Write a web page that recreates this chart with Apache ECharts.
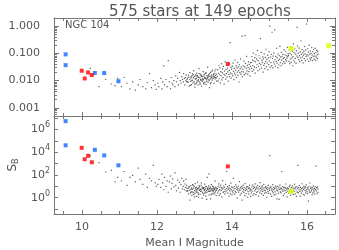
<!DOCTYPE html>
<html><head><meta charset="utf-8">
<script src="https://cdn.jsdelivr.net/npm/echarts@6/dist/echarts.min.js"></script>
<style>html,body{margin:0;padding:0;background:#fff}#c{width:339px;height:250px}</style>
</head><body><div id="c"></div><script>
// ---------- data ----------
const magA = [10.22,10.45,10.63,10.78,10.88,10.95];
const rmsA = [0.028,0.006,0.011,0.0075,0.0065,0.012];
const sbA  = [5000,1200,180,250,25,60];

const magB = [11.05,11.12,11.2,11.28,11.35,11.42,11.5,11.55,11.62,11.7,11.74,11.8,11.85,11.9,11.95,11.98];
const rmsB = [0.006,0.013,0.008,0.005,0.009,0.0045,0.007,0.011,0.006,0.005,0.0085,0.018,0.0055,0.010,0.007,0.0048];
const sbB  = [30,200,12,60,90,25,400,40,15,120,8,50,30,700,20,10];

const magC = [12.02,12.05,12.1,12.13,12.15,12.18,12.2,12.24,12.27,12.3,12.33,12.36,12.38,12.4,12.42,12.45,12.48,12.5,12.52,12.55,12.57,12.6,12.62,12.64,12.66,12.68,12.7,12.71,12.73,12.74,12.76,12.77,12.78,12.79,12.8];
const rmsC = [0.008,0.006,0.012,0.005,0.009,0.035,0.007,0.011,0.006,0.054,0.009,0.005,0.013,0.008,0.007,0.010,0.006,0.015,0.009,0.012,0.007,0.020,0.010,0.008,0.014,0.011,0.009,0.018,0.012,0.007,0.013,0.010,0.016,0.009,0.011];
const sbC  = [15,40,8,120,20,5,60,10,30,3,25,80,6,18,45,9,150,12,4,35,7,22,3,14,50,6,10,28,5,16,8,40,4,12,7];

const magD = [12.81,12.83,12.84,12.86,12.87,12.88,12.9,12.91,12.92,12.93,12.94,12.95,12.96,12.97,12.98,12.99,13.0,13.01,13.02,13.03,13.04,13.05,13.06,13.07,13.08,13.09,13.1,13.11,13.12,13.13,13.14,13.15,13.16,13.17,13.18,13.19,13.2,13.21,13.22,13.23,13.24,13.25,13.26,13.27,13.28,13.29,13.3,13.31,13.32,13.33,13.34,13.35,13.36,13.37,13.38,13.39,13.4,13.41,13.42,13.43,13.44,13.45,13.46,13.47,13.48,13.49,13.5,13.51,13.52,13.53,13.54,13.55,13.56,13.57,13.58,13.59,
  12.82,12.85,12.89,12.905,12.935,12.965,13.005,13.025,13.045,13.065,13.085,13.105,13.125,13.145,13.165,13.185,13.205,13.225,13.245,13.265,13.285,13.305,13.325,13.345,13.365,13.385,13.405,13.425,13.445,13.465,13.485,13.505,13.525,13.545,13.565,13.585];
const rmsD = [0.0123,0.0087,0.0158,0.0064,0.0112,0.0196,0.0094,0.0137,0.0071,0.0148,0.0105,0.0176,0.0083,0.0128,0.0232,0.0091,0.0142,0.0058,0.0117,0.0163,
  0.0078,0.0121,0.0189,0.0097,0.0153,0.0069,0.0109,0.0134,0.0274,0.0089,0.0126,0.0081,0.0171,0.0102,0.0145,0.0062,0.0139,0.0093,0.0118,0.0214,
  0.0107,0.0076,0.0161,0.0131,0.0086,0.0124,0.0183,0.0073,0.0113,0.0152,0.0119,0.0315,0.0088,0.0136,0.0167,0.0099,0.0055,0.0147,0.0115,0.0202,
  0.0084,0.0129,0.0159,0.0104,0.0243,0.0122,0.0141,0.0174,0.0079,0.0133,0.0186,0.0116,0.0155,0.0261,0.0127,0.0096,
  0.0092,0.0135,0.0067,0.0125,0.0101,0.0162,0.0074,0.0114,0.0149,0.0085,0.0138,0.0098,0.0179,0.0072,0.0111,0.0156,0.0106,0.0143,0.0082,0.0168,
  0.0120,0.0193,0.0095,0.0132,0.0151,0.0110,0.0181,0.0077,0.0140,0.0221,0.0117,0.0164,0.0144,0.0225,0.0130,0.0172];
const sbD  = [3.7,6.4,2.2,8.9,4.6,0.6,11.3,3.1,7.2,1.6,5.3,13.8,2.8,6.9,1.9,9.6,4.1,2.4,17.5,5.8,
  3.3,8.1,1.3,4.9,23.0,6.2,2.7,1.1,7.7,4.4,10.2,2.0,5.6,3.5,12.4,4.8,0.9,8.5,3.0,6.6,
  1.7,7.4,5.1,15.6,2.5,6.0,1.4,9.9,4.3,2.9,62,5.4,7.9,3.6,11.0,1.8,6.3,4.7,8.7,0.8,
  3.9,14.2,5.9,2.3,4.5,10.6,3.2,7.0,2.1,6.7,5.0,28,3.8,8.3,1.5,6.1,
  4.2,9.2,2.6,5.7,3.4,12.0,1.2,7.5,4.9,3.1,6.5,2.0,10.8,5.2,3.7,19.4,6.8,2.4,7.8,4.6,
  3.3,8.8,0.7,6.0,5.5,125,3.6,7.1,1.9,5.9,9.5,4.0,5.3,2.7,7.3,4.4];

const magE = [13.61,13.62,13.63,13.64,13.65,13.66,13.67,13.68,13.69,13.7,13.71,13.72,13.73,13.74,13.75,13.76,13.77,13.78,13.79,13.8,13.81,13.82,13.83,13.84,13.85,13.86,13.87,13.88,13.89,13.9,13.91,13.92,13.93,13.94,13.95,13.96,13.97,13.98,13.99,14.0,14.01,14.02,14.03,14.04,14.05,14.06,14.07,14.08,14.09,14.1,14.11,14.12,14.13,14.14,14.15,14.16,14.17,14.18,14.19,14.2,14.21,14.22,14.23,14.24,14.25,14.26,14.27,14.28,14.29,14.3,14.31,14.32,14.33,14.34,14.35,14.36,14.37,14.38,14.39,14.4,14.41,14.42,14.43,14.44,14.45,14.46,14.47,14.48,14.49,14.5];
const rmsE = [0.0143,0.0247,0.0098,0.0186,0.0352,0.0117,0.0164,0.0293,0.0082,0.0215,0.0152,0.0418,0.0106,0.0197,0.0268,0.0128,0.0331,0.0171,0.0074,0.0224,
  0.0159,0.0486,0.0113,0.0256,0.0181,0.0362,0.0136,0.0287,0.0209,0.0096,0.0398,0.0168,0.0238,0.0141,0.250,0.0191,0.0305,0.0124,0.0263,0.0177,
  0.0341,0.0149,0.0442,0.0219,0.0108,0.0281,0.0188,0.0573,0.0162,0.0242,0.0356,0.0131,0.0296,0.0204,0.0467,0.0155,0.0322,0.0231,0.0089,0.0383,
  0.0196,0.0272,0.0628,0.0174,0.0311,0.0212,0.430,0.0139,0.0259,0.0347,0.0207,0.0521,0.0166,0.0318,0.450,0.0428,0.0183,0.0284,0.0776,0.0228,
  0.0365,0.0172,0.0301,0.0489,0.0213,0.0392,0.0266,0.0147,0.0336,0.0455];
const sbE  = [6.3,2.7,9.8,3.9,16.2,1.6,5.2,8.6,2.3,12.9,4.1,7.5,1.2,5.7,31,6.8,2.9,10.7,3.6,8.2,
  2.1,5.0,14.5,3.3,6.1,200,4.5,9.1,2.5,7.3,5.5,1.4,11.6,4.0,6.6,2.2,19.0,5.1,8.8,1.8,
  3.8,7.8,2.6,52,4.7,9.4,2.0,6.4,3.5,13.5,2.8,8.4,5.3,0.9,7.0,4.2,10.3,3.0,6.0,26,
  4.4,1.7,8.1,5.8,2.4,9.6,0.6,6.7,3.7,11.9,5.0,2.9,7.6,1.5,17.0,4.3,6.2,2.3,8.9,4.9,
  1.1,9.3,3.4,6.5,2.1,7.2,12.6,3.9,5.6,1.3];

const magF = [14.51,14.52,14.53,14.54,14.55,14.56,14.57,14.58,14.59,14.6,14.61,14.62,14.63,14.64,14.65,14.66,14.67,14.68,14.69,14.7,14.71,14.72,14.73,14.74,14.75,14.76,14.77,14.78,14.79,14.8,14.81,14.82,14.83,14.84,14.85,14.86,14.87,14.88,14.89,14.9,14.91,14.92,14.93,14.94,14.95,14.96,14.97,14.98,14.99,15.0,15.01,15.02,15.03,15.04,15.05,15.06,15.07,15.08,15.09,15.1,15.11,15.12,15.13,15.14,15.15,15.16,15.17,15.18,15.19,15.2,15.21,15.22,15.23,15.24,15.25,15.26,15.27,15.28,15.29,15.3,15.31,15.32,15.33,15.34,15.35,15.36,15.37,15.38,15.39,15.4,15.41,15.42,15.43,15.44,15.45,15.46,15.47,15.48,15.49,15.5];
const rmsF = [0.0462,0.0281,0.0768,0.0219,0.0573,0.0354,0.1020,0.0246,0.0518,0.0317,0.0695,0.0188,0.0487,0.0893,0.0302,0.0615,0.0382,0.1280,0.0231,0.0541,
  0.0335,0.0821,0.0432,0.0266,0.0664,0.350,0.0398,0.1090,0.0289,0.0557,0.0471,0.0742,0.0205,0.0630,0.0362,0.0957,0.0421,0.0274,0.0712,0.0503,
  0.1420,0.0327,0.0598,0.0445,0.0856,0.0252,0.0681,0.0389,0.1160,0.0529,1.000,0.0311,0.0733,0.0455,0.0912,0.0347,0.600,0.0649,0.0293,0.0797,
  0.0481,0.1030,0.0408,0.730,0.0585,0.0339,0.0774,0.0512,0.1550,0.0437,0.0688,0.0298,0.0965,0.0551,0.0375,0.0829,0.0605,0.1810,0.0459,0.0745,
  0.0352,0.1100,0.0568,0.0786,0.0414,0.0921,0.0656,0.0496,0.1340,0.0703,0.0428,0.0872,0.0592,0.1150,0.0534,0.0811,0.0673,0.1680,0.0752,0.0985];
const sbF  = [5.2,2.6,8.7,3.8,13.1,1.7,6.4,9.6,2.3,7.5,4.0,16.3,5.6,1.9,8.2,2.9,6.1,11.9,3.5,7.1,
  1.4,5.0,9.9,2.7,21.5,6.6,3.9,8.5,2.2,5.4,10.8,3.6,6.9,1.6,14.8,4.7,2.5,7.8,4.2,9.4,
  2.8,6.2,1.1,8.0,5.3,3.4,12.3,2.4,6.7,4.4,5000,7.6,2.1,9.1,4.9,1.3,6.0,3.7,13.9,2.6,
  8.4,5.1,1.8,6.5,3.3,10.5,2.0,7.3,4.6,0.8,9.7,3.9,5.8,2.4,8.6,0.7,5.5,12.7,3.2,7.0,
  2.7,6.3,200,4.8,9.3,3.6,1.5,7.7,5.0,2.2,8.1,4.1,6.8,16.0,2.9,5.7,1.2,7.4,3.8,6.1];

const magG = [15.51,15.52,15.53,15.54,15.55,15.56,15.57,15.58,15.59,15.6,15.61,15.62,15.63,15.64,15.65,15.66,15.67,15.68,15.69,15.7,15.71,15.72,15.73,15.74,15.75,15.76,15.77,15.78,15.79,15.8,15.81,15.82,15.83,15.84,15.85,15.86,15.87,15.88,15.89,15.9,15.91,15.92,15.93,15.94,15.95,15.96,15.97,15.98,15.99,16.0,16.01,16.02,16.03,16.04,16.05,16.06,16.07,16.08,16.09,16.1,16.11,16.12,16.13,16.14,16.15,16.16,16.17,16.18,16.19,16.2,16.21,16.22,16.23,16.24,16.25,16.26,16.27,16.28,16.29,16.3];
const rmsG = [0.0842,0.0513,0.1320,0.0418,0.1010,0.0627,0.1690,0.0465,0.0893,0.0681,0.1190,0.0352,0.0764,0.2240,0.0572,0.1070,0.0489,0.1450,0.0655,0.0948,
  0.0431,0.1260,0.0803,0.900,0.1880,0.0718,0.1030,0.0594,0.1560,0.0826,0.0498,0.1140,0.0687,0.2850,0.0915,0.0553,0.1370,0.0741,0.1050,0.0446,
  0.0857,0.1210,0.0638,0.1790,0.0962,0.0537,0.1310,0.0779,1.200,0.0895,0.0609,0.1480,0.0815,0.1110,0.0506,0.2010,0.0934,0.0665,0.1230,0.0581,
  0.0997,0.0703,0.1620,0.0868,0.0542,0.1160,0.0752,0.1390,0.0621,0.0975,0.0791,0.1530,0.0567,0.1080,0.0728,0.1290,0.0884,0.0647,0.1180,0.0952];
const sbG  = [6.1,2.4,9.5,3.7,12.8,5.2,1.6,8.3,3.9,7.4,2.6,10.9,4.8,1.9,7.0,3.5,15.2,6.3,2.2,8.6,
  4.5,1.3,9.2,3.1,6.6,700,2.8,7.7,5.0,11.7,3.6,1.4,8.0,4.9,2.5,6.4,16.8,3.8,7.2,2.0,
  5.4,9.8,1.7,6.8,4.1,8.7,2.7,13.3,5.1,3.4,7.5,2.3,6.0,0.5,9.4,4.6,3.2,19.5,2.9,6.5,
  8.4,3.9,5.5,1.8,7.3,2.6,10.6,4.7,3.3,6.2,2.1,8.9,5.3,600,4.0,7.6,2.4,9.1,5.7,3.0];

// highlighted stars
const blueMag = [9.56,9.56,10.34,10.59,10.97];
const blueRms = [0.092,0.037,0.019,0.019,0.0095];
const blueSb  = [5.3e6,4.0e4,1.6e4,5.2e3,700];
const redMag  = [9.99,10.07,10.16,10.26,13.89];
const redRms  = [0.023,0.012,0.020,0.016,0.041];
const redSb   = [2.4e4,2.4e3,4.8e3,1.3e3,560];
const yelMag  = [15.58,16.58];
const yelRms  = [0.15,0.19];
const yelSb   = [3.6,null];

const titleText = '575 stars at 149 epochs';
const clusterName = 'NGC 104';
const xName = 'Mean I Magnitude';

// ---------- build ----------
const starMag = [].concat(magA,magB,magC,magD,magE,magF,magG);
const starRms = [].concat(rmsA,rmsB,rmsC,rmsD,rmsE,rmsF,rmsG);
const starSb  = [].concat(sbA,sbB,sbC,sbD,sbE,sbF,sbG);
const zip = (a,b) => a.map((v,i)=>[v,b[i]]).filter(p=>p[1]!=null);

const FONT = 'DejaVu Sans';
const TXT = '#555';
const AX = '#777';
const X_MIN = 9.25, X_MAX = 16.75;

function xAx(grid, pos, showLabel){
  return {
    type:'value', gridIndex:grid, position:pos, min:X_MIN, max:X_MAX,
    axisLine:{show:true,onZero:false,lineStyle:{color:AX,width:1}},
    axisTick:{show:true,inside:true,length:4,lineStyle:{color:AX}},
    minorTick:{show:true,splitNumber:4,length:3,lineStyle:{color:AX}},
    splitLine:{show:false},
    axisLabel:{show:showLabel,color:TXT,fontFamily:FONT,fontSize:11,margin:8,
      formatter:v=> (Math.abs(v-Math.round(v))<1e-6 && Math.round(v)%2===0) ? String(Math.round(v)) : ''}
  };
}
function isDecade(v){const e=Math.log10(v);return Math.abs(e-Math.round(e))<1e-6;}
function yTop(pos, showLabel){
  return {
    type:'log', logBase:10, gridIndex:0, position:pos, min:0.0005, max:2,
    axisLine:{show:true,onZero:false,lineStyle:{color:AX}},
    axisTick:{show:true,inside:true,length:5,lineStyle:{color:AX}},
    minorTick:{show:true,splitNumber:9,length:3,lineStyle:{color:AX}},
    splitLine:{show:false},
    name: showLabel ? 'RMS (mag)' : '', nameLocation:'middle', nameGap:36,
    nameTextStyle:{color:TXT,fontFamily:FONT,fontSize:11},
    axisLabel:{show:showLabel,color:TXT,fontFamily:FONT,fontSize:11,margin:14,
      formatter:v=> isDecade(v) ? v.toFixed(3) : ''}
  };
}
function yBot(pos, showLabel){
  return {
    type:'log', logBase:10, gridIndex:1, position:pos, min:0.037, max:1.5e7,
    axisLine:{show:true,onZero:false,lineStyle:{color:AX}},
    axisTick:{show:true,inside:true,length:4,lineStyle:{color:AX}},
    splitLine:{show:false},
    name: showLabel ? '{s|S}{b|B}' : '', nameLocation:'middle', nameGap:31,
    nameTextStyle:{color:TXT,fontFamily:FONT,fontSize:11,
      rich:{s:{fontSize:12,color:TXT,fontFamily:FONT},b:{fontSize:8,color:TXT,fontFamily:FONT,padding:[6,0,0,0]}}},
    axisLabel:{show:showLabel,color:TXT,fontFamily:FONT,fontSize:11,margin:4,
      formatter:v=>{ if(!isDecade(v)) return ''; const e=Math.round(Math.log10(v)); return e%2===0 ? '{n|10}{e|'+e+'}' : ''; },
      rich:{n:{fontSize:11,color:TXT,fontFamily:FONT},e:{fontSize:8,color:TXT,fontFamily:FONT,padding:[0,0,8,0]}}}
  };
}
function sq(xi,yi,data,color,size){
  return {type:'scatter', xAxisIndex:xi, yAxisIndex:yi, data, symbol:'rect', symbolSize:size,
    itemStyle:{color}, silent:true, z:5};
}
function dots(xi,yi,data){
  return {type:'scatter',xAxisIndex:xi,yAxisIndex:yi,data,symbol:'rect',symbolSize:1.2,itemStyle:{color:'#333'},silent:true};
}

const chart = echarts.init(document.getElementById('c'), null, {renderer:'canvas'});
chart.setOption({
  animation:false,
  backgroundColor:'#fff',
  title:{text:titleText,left:195,textAlign:'center',top:0,textStyle:{color:TXT,fontFamily:FONT,fontSize:15,fontWeight:'normal'}},
  grid:[{left:54,right:4,top:18,height:98,containLabel:false,outerBoundsMode:'none'},
        {left:54,right:4,top:116,height:98,containLabel:false,outerBoundsMode:'none'}],
  xAxis:[xAx(0,'bottom',false),xAx(0,'top',false),
    Object.assign(xAx(1,'bottom',true),{name:xName,nameLocation:'middle',nameGap:24,nameTextStyle:{color:TXT,fontFamily:FONT,fontSize:11}}),
    xAx(1,'top',false)],
  yAxis:[yTop('left',true),yTop('right',false),yBot('left',true),yBot('right',false)],
  graphic:[{type:'text',left:65,top:20,style:{text:clusterName,fill:TXT,font:'10px "DejaVu Sans"'}}],
  series:[
    dots(0,0,zip(starMag,starRms)),
    dots(2,2,zip(starMag,starSb)),
    sq(0,0,zip(blueMag,blueRms),'#1166ff',4),
    sq(0,0,zip(redMag,redRms),'#ff0000',4),
    sq(0,0,zip(yelMag,yelRms),'#ddff00',5),
    sq(2,2,zip(blueMag,blueSb),'#1166ff',4),
    sq(2,2,zip(redMag,redSb),'#ff0000',4),
    sq(2,2,zip(yelMag,yelSb),'#ddff00',5)
  ]
});
</script></body></html>
